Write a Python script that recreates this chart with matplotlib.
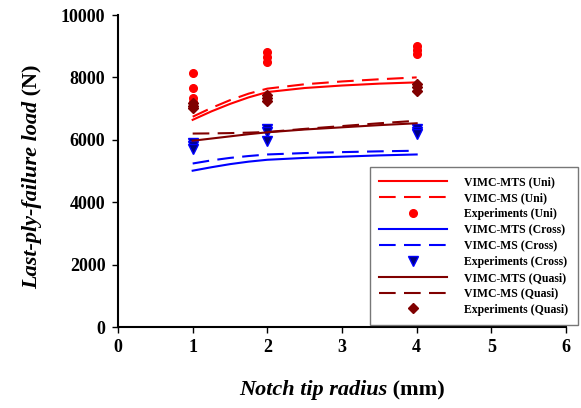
import matplotlib
matplotlib.use("Agg")
import matplotlib.pyplot as plt

# Model curves (read at several radii)
x_model = [1, 1.25, 1.5, 1.75, 2, 2.5, 3, 3.5, 4]
uni_mts = [6640, 6910, 7150, 7360, 7530, 7660, 7740, 7800, 7840]
uni_ms = [6740, 7020, 7270, 7480, 7640, 7780, 7870, 7940, 8000]
cross_mts = [5010, 5120, 5220, 5300, 5360, 5420, 5460, 5500, 5530]
cross_ms = [5240, 5340, 5420, 5480, 5530, 5575, 5605, 5630, 5650]
quasi_mts = [5970, 6040, 6110, 6180, 6240, 6330, 6400, 6470, 6530]
quasi_ms = [6200, 6205, 6215, 6230, 6250, 6350, 6440, 6530, 6610]

# Experiments
uni_x = [1, 1, 1, 1, 2, 2, 2, 4, 4, 4]
uni_y = [8150, 7650, 7350, 7200, 8800, 8650, 8500, 9000, 8880, 8750]
cross_x = [1, 1, 1, 2, 2, 2, 4, 4, 4]
cross_y = [5900, 5800, 5700, 6350, 6250, 5950, 6350, 6250, 6200]
quasi_x = [1, 1, 1, 2, 2, 2, 4, 4, 4]
quasi_y = [7180, 7080, 7020, 7450, 7350, 7250, 7800, 7680, 7560]

x_ticks = [0, 1, 2, 3, 4, 5, 6]
y_ticks = [0, 2000, 4000, 6000, 8000, 10000]

RED = "#FF0000"
BLUE = "#0000FF"
DRED = "#800000"
NAVY = "#000080"

plt.rcParams['font.family'] = ['Liberation Serif', 'DejaVu Serif']

fig = plt.figure(figsize=(5.81, 4.08), dpi=100)
ax = fig.add_axes([118/581, 81/408, 448/581, 312/408])

dash = (0, (8, 4))
ax.plot(x_model, uni_mts, color=RED, lw=1.5, label="VIMC-MTS (Uni)")
ax.plot(x_model, uni_ms, color=RED, lw=1.5, ls=dash, label="VIMC-MS (Uni)")
ax.plot(uni_x, uni_y, ls="none", marker="o", ms=5.5, color=RED, mec=RED, label="Experiments (Uni)")
ax.plot(x_model, cross_mts, color=BLUE, lw=1.5, label="VIMC-MTS (Cross)")
ax.plot(x_model, cross_ms, color=BLUE, lw=1.5, ls=dash, label="VIMC-MS (Cross)")
ax.plot(cross_x, cross_y, ls="none", marker="v", ms=6.5, mfc=NAVY, mec=BLUE, mew=1, label="Experiments (Cross)")
ax.plot(x_model, quasi_mts, color=DRED, lw=1.5, label="VIMC-MTS (Quasi)")
ax.plot(x_model, quasi_ms, color=DRED, lw=1.5, ls=dash, label="VIMC-MS (Quasi)")
ax.plot(quasi_x, quasi_y, ls="none", marker="D", ms=5.5, color=DRED, mec=DRED, label="Experiments (Quasi)")

ax.set_xlim(0, 6)
ax.set_ylim(0, 10000)
ax.set_xticks(x_ticks)
ax.set_yticks(y_ticks)
for s in ["top", "right"]:
    ax.spines[s].set_visible(False)
for s in ["left", "bottom"]:
    ax.spines[s].set_linewidth(1.5)
ax.tick_params(direction="out", length=4, width=1, labelsize=13, pad=5)
for lab in ax.get_xticklabels() + ax.get_yticklabels():
    lab.set_fontweight("bold")

leg = ax.legend(loc="upper left", bbox_to_anchor=(370/581, 241/408), bbox_transform=fig.transFigure,
                frameon=True, fancybox=False, edgecolor="#555555", handlelength=5.7,
                prop={'weight': 'bold', 'size': 8.5}, labelspacing=0.33, borderpad=0.8,
                handletextpad=1.5, borderaxespad=0)
leg.get_frame().set_linewidth(1.0)

# Axis labels: italic bold part + upright bold unit
fig.canvas.draw()
r = fig.canvas.get_renderer()
fs = 16
t1 = fig.text(0, 0, "Notch tip radius", fontsize=fs, fontweight="bold", fontstyle="italic")
t2 = fig.text(0, 0, " (mm)", fontsize=fs, fontweight="bold")
w1 = t1.get_window_extent(r).width
w2 = t2.get_window_extent(r).width
cx = 342
ybase = 408 - 395
t1.set_position(((cx - (w1 + w2) / 2) / 581, ybase / 408))
t2.set_position(((cx - (w1 + w2) / 2 + w1) / 581, ybase / 408))

u1 = fig.text(0, 0, "Last-ply-failure load", fontsize=fs, fontweight="bold", fontstyle="italic", rotation=90)
u2 = fig.text(0, 0, " (N)", fontsize=fs, fontweight="bold", rotation=90)
h1 = u1.get_window_extent(r).height
h2 = u2.get_window_extent(r).height
cy = 408 - 172
xl = 22
u1.set_position((xl / 581, (cy - (h1 + h2) / 2) / 408))
u2.set_position((xl / 581, (cy - (h1 + h2) / 2 + h1) / 408))

fig.savefig("out.png", dpi=100)
